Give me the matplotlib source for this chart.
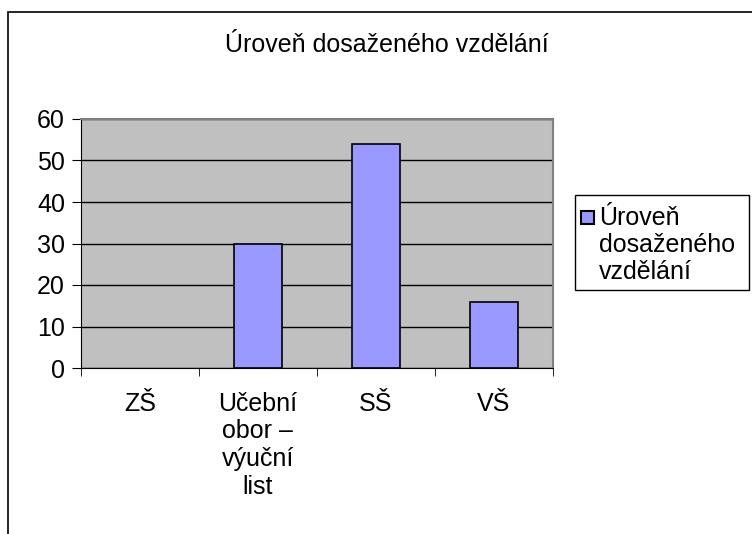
import matplotlib.pyplot as plt
from matplotlib.patches import Rectangle

categories = ["ZŠ", "Učební\nobor –\nvýuční\nlist", "SŠ", "VŠ"]
values = [0, 30, 54, 16]
series_name = "Úroveň\ndosaženého\nvzdělání"
title = "Úroveň dosaženého vzdělání"

plt.rcParams["font.family"] = ["Liberation Sans", "DejaVu Sans"]

W, H = 752, 534
FS = 18
fig = plt.figure(figsize=(W / 100, H / 100), dpi=100)


def fx(px):
    return px / W


def fy(py):
    return 1 - py / H


# outer chart frame (cut off at right and bottom)
fig.patches.append(Rectangle((fx(8), -0.1), 1.2, 1.1 - 12 / H, transform=fig.transFigure,
                             fill=False, edgecolor="black", linewidth=1.2))

ax = fig.add_axes([fx(81), fy(368), fx(553 - 81), (368 - 119) / H])
ax.set_facecolor("#C0C0C0")

x = range(len(categories))
bars = ax.bar(x, values, width=0.4, color="#9999FF", edgecolor="black",
              linewidth=[1.2 if v > 0 else 0 for v in values], zorder=3)

ax.set_xlim(-0.5, len(categories) - 0.5)
ax.set_ylim(0, 60)
ax.set_yticks(range(0, 61, 10))
ax.grid(axis="y", color="black", linewidth=1, zorder=1)
ax.set_axisbelow(True)

ax.set_xticks(x)
ax.set_xticklabels(categories, fontsize=FS, va="top")
ax.tick_params(axis="x", length=0, pad=17)
ax.set_xticks([i + 0.5 for i in range(-1, len(categories))], minor=True)
ax.tick_params(axis="x", which="minor", length=6, direction="out", color="black")
ax.tick_params(axis="y", labelsize=FS, length=6.5, direction="out", pad=5)

for s in ["top", "right"]:
    ax.spines[s].set_color("#808080")
    ax.spines[s].set_linewidth(1.5)

fig.text(fx(387), fy(45), title, ha="center", va="center", fontsize=FS)

# legend drawn like the spreadsheet one: marker aligned with the first text line
fig.patches.append(Rectangle((fx(575), fy(290)), fx(749 - 575), (290 - 195) / H,
                             transform=fig.transFigure, fill=False,
                             edgecolor="black", linewidth=1))
fig.patches.append(Rectangle((fx(581), fy(224)), fx(13), 13 / H,
                             transform=fig.transFigure, facecolor="#9999FF",
                             edgecolor="black", linewidth=1.5))
fig.text(fx(599), fy(245), series_name, ha="left", va="center", fontsize=FS,
         linespacing=1.15)

fig.savefig("out.png", dpi=100)
